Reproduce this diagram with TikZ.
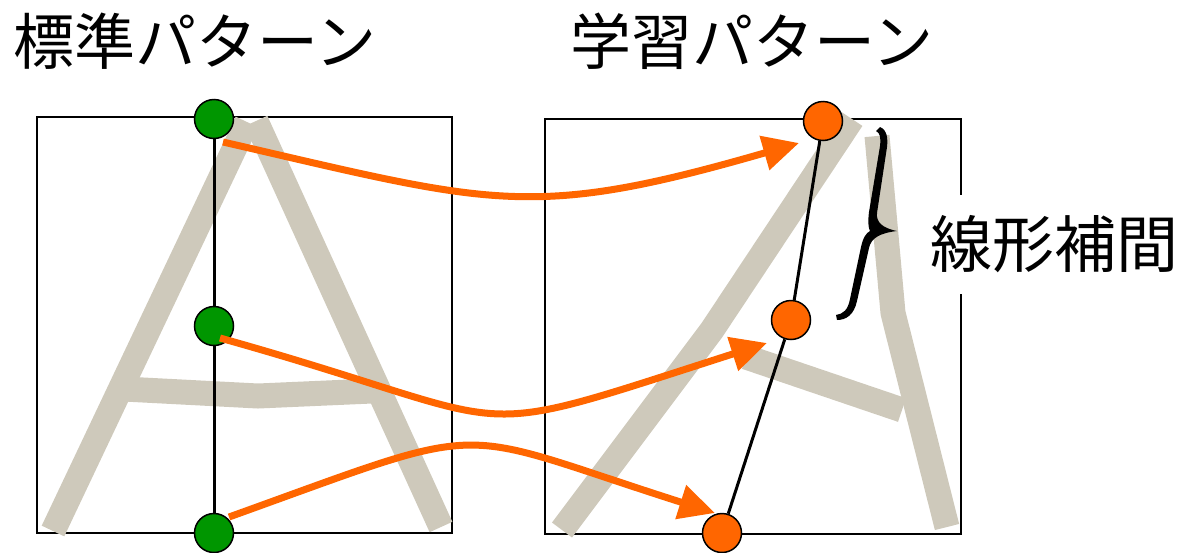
\documentclass[tikz,border=0pt]{standalone}
\usepackage{fontspec}
\newfontfamily\jp{Noto Sans CJK JP}
\usetikzlibrary{arrows.meta,calc}
\definecolor{strokegray}{RGB}{206,201,187}
\definecolor{dotgreen}{RGB}{0,150,0}
\definecolor{dotorange}{RGB}{255,102,0}
\begin{document}
\begin{tikzpicture}[x=1pt,y=-1pt,
  framebox/.style={draw=black,line width=1.8pt},
  astroke/.style={draw=strokegray,line width=25pt},
  gdot/.style={circle,draw=black,line width=1.5pt,fill=dotgreen,minimum size=39pt,inner sep=0pt},
  odot/.style={circle,draw=black,line width=1.5pt,fill=dotorange,minimum size=39pt,inner sep=0pt},
  link/.style={draw=black,line width=3pt},
  maparrow/.style={draw=dotorange,line width=7pt,-{Triangle[length=36pt,width=34pt]}},
  title/.style={font=\jp\fontsize{61}{63}\selectfont,inner sep=0pt,anchor=west},
]
\useasboundingbox (0,0) rectangle (1182,552);
% frames
\draw[framebox] (37,117) rectangle (452,533);
\draw[framebox] (545,119) rectangle (961,534);
% standard A
\draw[astroke] (53,531) -- (247,122);
\draw[astroke] (256,121) -- (441,527);
\draw[astroke] (124,389) -- (258,396) -- (372,391);
% learned A
\draw[astroke] (562,530) -- (712,330) -- (852,119);
\draw[astroke] (877,136) -- (893,313) -- (947,527);
\draw[astroke] (746,357) -- (902,410);
% points
\node[gdot] (g1) at (214,119) {};
\node[gdot] (g2) at (214,326) {};
\node[gdot] (g3) at (214,533) {};
\node[odot] (o1) at (823,121) {};
\node[odot] (o2) at (791,320) {};
\node[odot] (o3) at (722,533) {};
\draw[link] (g1) -- (g2) -- (g3);
\draw[link] (o1) -- (o2) -- (o3);
% mapping arrows
\draw[maparrow] ($(g1)+(9,23)$) .. controls (493,204) and (529,221) .. ($(o1)+(-24,22)$);
\draw[maparrow] ($(g2)+(6,12)$) .. controls (538,427) and (449,445) .. ($(o2)+(-24,23)$);
\draw[maparrow] ($(g3)+(15,-16)$) .. controls (499,420) and (445,427) .. ($(o3)+(-7,-20)$);
% brace
\fill[black] (880,127) .. controls (887,130) and (888,138) .. (887,147) -- (877,213)
  .. controls (876,222) and (882,228) .. (897,231)
  .. controls (880,233) and (871,238) .. (869,248) -- (857,301)
  .. controls (854,315) and (846,320) .. (837,320) -- (836,315)
  .. controls (843,314) and (848,310) .. (850,299) -- (861,247)
  .. controls (863,238) and (866,233) .. (870,231)
  .. controls (868,228) and (868,220) .. (869,212) -- (880,146)
  .. controls (881,137) and (880,133) .. (876,131) -- cycle;
% labels
\node[title] (t1) at (13,41) {標準パターン};
\node[title] (t2) at (570,41) {学習パターン};
\node[font=\jp\fontsize{62}{64}\selectfont,fill=white,inner xsep=6pt,inner ysep=0pt,minimum height=99pt,anchor=west] (lbl) at (924,244) {線形補間};
\end{tikzpicture}
\end{document}
